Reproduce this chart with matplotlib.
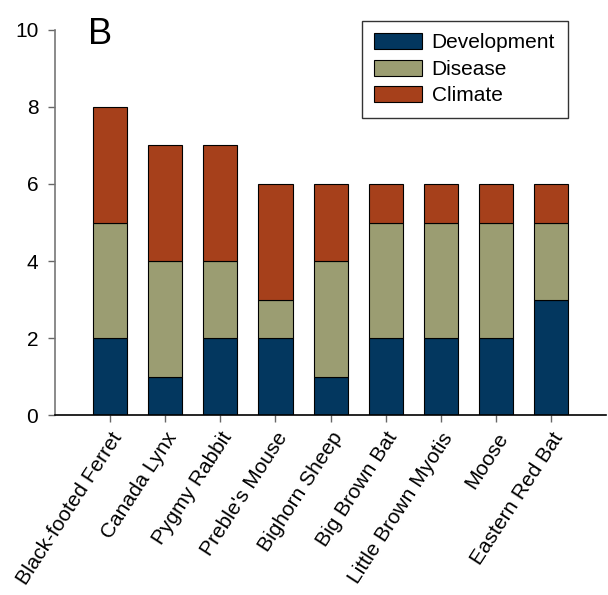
import matplotlib
matplotlib.use("Agg")
import matplotlib.pyplot as plt
import numpy as np

plt.rcParams['font.family'] = ['Liberation Sans', 'DejaVu Sans']

species = ["Black-footed Ferret", "Canada Lynx", "Pygmy Rabbit", "Preble's Mouse",
           "Bighorn Sheep", "Big Brown Bat", "Little Brown Myotis", "Moose",
           "Eastern Red Bat"]
development = [2, 1, 2, 2, 1, 2, 2, 2, 3]
disease = [3, 3, 2, 1, 3, 3, 3, 3, 2]
climate = [3, 3, 3, 3, 2, 1, 1, 1, 1]

colors = {"Development": "#03375f", "Disease": "#9b9d72", "Climate": "#a6401b"}

fig = plt.figure(figsize=(6.08, 5.95), dpi=100)
ax = fig.add_axes([0.0905, 0.3025, 0.9065, 0.6471])

x = np.arange(len(species))
w = 0.62
dev = np.array(development)
dis = np.array(disease)
cli = np.array(climate)
ax.bar(x, dev, w, color=colors["Development"], edgecolor="black", linewidth=0.8, label="Development")
ax.bar(x, dis, w, bottom=dev, color=colors["Disease"], edgecolor="black", linewidth=0.8, label="Disease")
ax.bar(x, cli, w, bottom=dev + dis, color=colors["Climate"], edgecolor="black", linewidth=0.8, label="Climate")

ax.set_xlim(-1, 9)
ax.set_ylim(0, 10)
ax.set_yticks([0, 2, 4, 6, 8, 10])
ax.set_xticks(x)
ax.set_xticklabels(species, rotation=57, ha="right", rotation_mode="anchor", fontsize=15)
ax.tick_params(axis="y", labelsize=15, length=5, color="#666666", width=1, pad=7)
ax.tick_params(axis="x", length=5, color="#666666", width=1, pad=5)

for s in ["top", "right"]:
    ax.spines[s].set_visible(False)
ax.spines["left"].set_color("#777777")
ax.spines["left"].set_linewidth(1.2)
ax.spines["bottom"].set_color("black")
ax.spines["bottom"].set_linewidth(1.2)

ax.text(0.06, 1.035, "B", transform=ax.transAxes, fontsize=26, va="top", ha="left")

leg = ax.legend(loc="upper right", bbox_to_anchor=(0.93, 1.024), fontsize=15,
                frameon=True, fancybox=False, edgecolor="black", handlelength=2.3,
                handleheight=0.8, labelspacing=0.35, borderpad=0.6, handletextpad=0.45,
                borderaxespad=0)
leg.get_frame().set_linewidth(1.0)

fig.savefig("out.png", dpi=100)
